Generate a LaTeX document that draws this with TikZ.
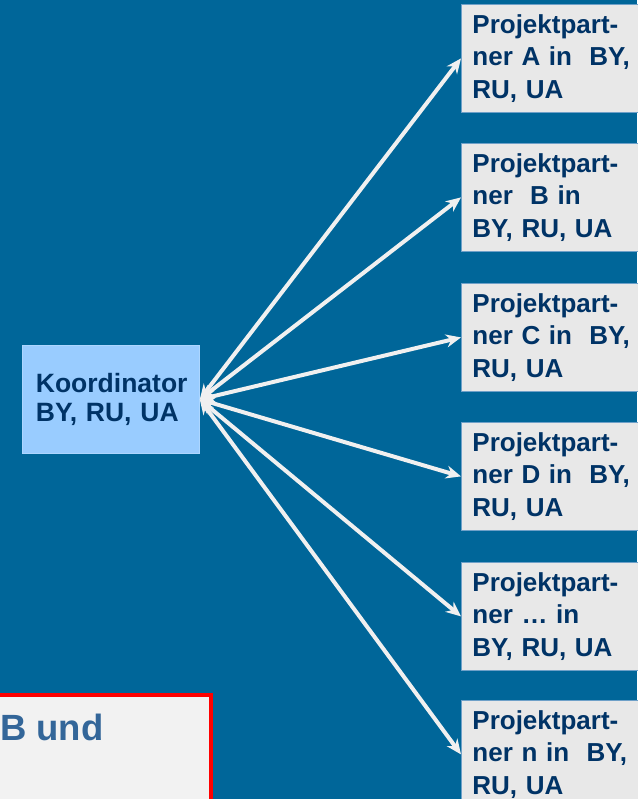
\documentclass[tikz,border=0pt]{standalone}
\usepackage{fontspec}
\setmainfont{Liberation Sans}
\usetikzlibrary{arrows.meta}
\definecolor{bg}{RGB}{0,102,153}
\definecolor{navy}{RGB}{0,51,102}
\definecolor{koordfill}{RGB}{153,204,255}
\definecolor{partfill}{RGB}{232,232,232}
\definecolor{partline}{RGB}{110,160,200}
\definecolor{arrowc}{RGB}{240,240,240}
\definecolor{notefill}{RGB}{242,242,242}
\definecolor{notetext}{RGB}{51,102,153}
\tikzset{
  partner/.style={draw=partline, line width=0.8pt, fill=partfill, anchor=north west,
    minimum width=192pt, minimum height=108pt, text width=170pt, inner xsep=11pt,
    align=left, text=navy, font=\fontsize{26pt}{32.5pt}\selectfont\bfseries},
  koord/.style={draw=koordfill!80!white, line width=0.8pt, fill=koordfill, anchor=north west,
    minimum width=176pt, minimum height=108pt, text width=150pt, inner xsep=13.5pt,
    align=left, text=navy, font=\fontsize{26.5pt}{29pt}\selectfont\bfseries},
  link/.style={draw=arrowc, line width=4pt, {Stealth[length=15pt,width=13pt]}-{Stealth[length=15pt,width=13pt]}}
}
\begin{document}
\begin{tikzpicture}[x=1pt,y=-1pt]
\fill[bg] (0,0) rectangle (637,799);
\useasboundingbox (0,0) rectangle (637,799);
\node[koord] (k) at (22,345) {Koordinator\\BY, RU, UA};
\node[partner] (pa) at (461,4) {Projektpart-\\ner A in\ \ BY,\\RU, UA};
\node[partner] (pb) at (461,143) {Projektpart-\\ner\ \ B in\\BY, RU, UA};
\node[partner] (pc) at (461,283) {Projektpart-\\ner C in\ \ BY,\\RU, UA};
\node[partner] (pd) at (461,422) {Projektpart-\\ner D in\ \ BY,\\RU, UA};
\node[partner] (pe) at (461,562) {Projektpart-\\ner … in\\BY, RU, UA};
\node[partner] (pn) at (461,700) {Projektpart-\\ner n in\ \ BY,\\RU, UA};
\foreach \p in {pa,pb,pc,pd,pe,pn}{\draw[link] (k.east) -- (\p.west);}
\node[draw=red, line width=4pt, fill=notefill, anchor=north east, minimum width=240pt,
  minimum height=130pt] (note) at (213,693) {};
\node[anchor=base west, inner sep=0pt, text=notetext, font=\fontsize{36.5pt}{40pt}\selectfont\bfseries] (notetxt) at (0,740) {B und};
\end{tikzpicture}
\end{document}
